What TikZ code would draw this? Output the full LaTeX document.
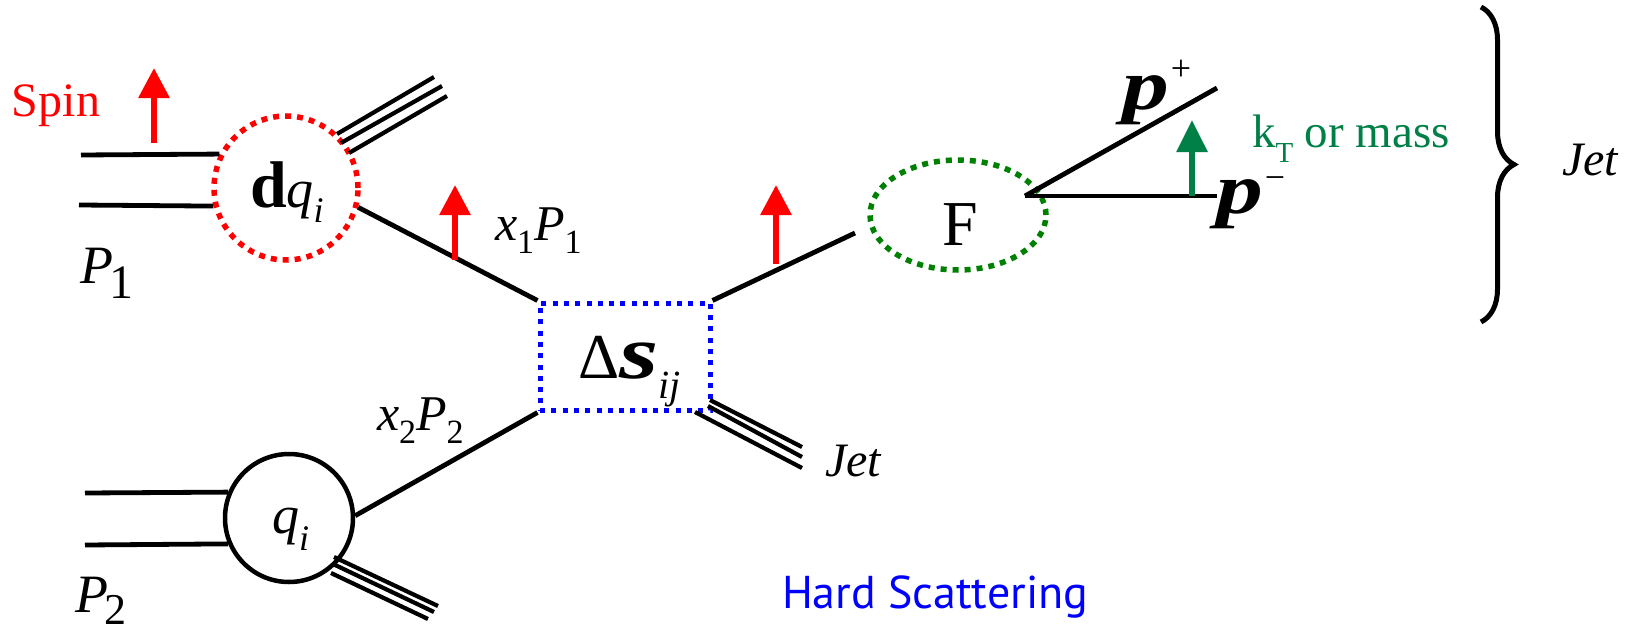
\documentclass[tikz,border=0pt]{standalone}
\usepackage{fontspec}
\setmainfont{Liberation Serif}
\newfontfamily\tms{Liberation Serif}
\newfontfamily\hsfont{PT Sans}
\usetikzlibrary{arrows.meta,shapes.geometric,decorations.pathreplacing}
\definecolor{sred}{RGB}{255,0,0}
\definecolor{sblue}{RGB}{0,0,255}
\definecolor{egreen}{RGB}{0,128,0}
\definecolor{tgreen}{RGB}{0,128,70}
\newcommand\myfs[1]{\fontsize{#1}{#1}\selectfont}
\begin{document}
\begin{tikzpicture}[x=1pt,y=-1pt,
  line/.style={line width=4.8pt},
  jetline/.style={line width=4.2pt},
  spinarrow/.style={draw=sred,line width=6pt,-{Triangle[length=30pt,width=30pt]}},
  ktarrow/.style={draw=tgreen,line width=6pt,-{Triangle[length=32pt,width=30pt]}},
  txt/.style={anchor=base west,inner sep=0pt,outer sep=0pt,font=\tms}]
\useasboundingbox (0,0) rectangle (1644,634);

% main shapes
\node[circle,draw=sred,line width=5.5pt,dash pattern=on 6pt off 6pt,minimum size=144pt,inner sep=0pt] (dq) at (286,188) {};
\node[circle,draw=black,line width=4.5pt,minimum size=128pt,inner sep=0pt] (q) at (289,518) {};
\node[rectangle,draw=sblue,line width=5pt,dash pattern=on 5pt off 6.3pt,minimum width=170pt,minimum height=107pt,inner sep=0pt] (ds) at (625,356.5) {};
\node[ellipse,draw=egreen,line width=5.5pt,dash pattern=on 6pt off 6pt,minimum width=176pt,minimum height=110pt,inner sep=0pt] (F) at (958,215) {};

% coordinates
\coordinate (pa1) at (81,155);
\coordinate (pa2) at (79,205);
\coordinate (pb1) at (85,493);
\coordinate (pb2) at (85,545);
\coordinate (fin) at (855,233);
\coordinate (vtx) at (1025,196);
\coordinate (pp) at (1217,88);
\coordinate (pm) at (1217,196);

% incoming protons
\draw[line] (pa1) -- (dq.153);
\draw[line] (pa2) -- (dq.194);
\draw[line] (pb1) -- (q.157);
\draw[line] (pb2) -- (q.203);

% partons
\draw[line] (dq.-15) -- (ds.north west);
\draw[line] (q.2) -- (ds.south west);
\draw[line] (ds.north east) -- (fin);
\draw[line] (vtx) -- (pp);
\draw[line] (vtx) -- (pm);

% remnant jets
\draw[jetline] (337,134) -- (434,77);
\draw[jetline] (341,143) -- (442,86);
\draw[jetline] (349,153) -- (447,96);
\draw[jetline] (334,557) -- (438,606);
\draw[jetline] (333,564) -- (434,612);
\draw[jetline] (331,573) -- (428,619);
\draw[jetline] (710,400) -- (802,447);
\draw[jetline] (708,406) -- (802,457);
\draw[jetline] (695,412) -- (802,468);

% spin arrows
\draw[spinarrow] (154,143) -- (154,68);
\draw[spinarrow] (455,260) -- (455,185);
\draw[spinarrow] (776,264) -- (776,185);
\draw[ktarrow] (1192,196) -- (1192,120);

% brace
\draw[line width=5pt,decorate,decoration={brace,amplitude=33pt,aspect=0.5}] (1481,7) -- (1481,322);

% labels
\node[txt,text=sred] (spin) at (12,116) {\myfs{48}Spin};
\node[txt] (P1) at (80,283) {\myfs{54}\textit{P}\hspace{-3pt}\raisebox{-15pt}{\myfs{48}1}};
\node[txt] (P2) at (75,612) {\myfs{54}\textit{P}\hspace{-3pt}\raisebox{-12pt}{\myfs{44}2}};
\node[txt] (dqlab) at (250,207) {\myfs{66}\textbf{d}\myfs{54}\textit{q}\raisebox{-15pt}{\myfs{36}\textit{i}}};
\node[txt] (qlab) at (272,533) {\myfs{54}\textit{q}\raisebox{-17pt}{\myfs{36}\textit{i}}};
\node[txt] (x1) at (495,240) {\myfs{50}\textit{x}\raisebox{-13pt}{\myfs{34}1}\textit{P}\raisebox{-13pt}{\myfs{34}1}};
\node[txt] (x2) at (377,430) {\myfs{50}\textit{x}\raisebox{-13pt}{\myfs{34}2}\textit{P}\raisebox{-13pt}{\myfs{34}2}};
\node[txt] (dslab) at (578,378) {\myfs{64}Δ\myfs{72}\scalebox{1.4}[1.05]{\textbf{\textit{s}}}\raisebox{-20pt}{\myfs{40}\textit{ij}}};
\node[txt] (Flab) at (942,245) {\myfs{64}F};
\node[txt] (pplab) at (1122,110) {\myfs{72}\scalebox{1.3}[1]{\textbf{\textit{p}}}\hspace{2pt}\raisebox{29pt}{\myfs{36}+}};
\node[txt] (pmlab) at (1216,213) {\myfs{72}\scalebox{1.3}[1]{\textbf{\textit{p}}}\hspace{2pt}\raisebox{24pt}{\myfs{36}−}};
\node[txt,text=tgreen] (kt) at (1252,147) {\myfs{47}k\raisebox{-15pt}{\myfs{29}T} or mass};
\node[txt] (jet1) at (825,476) {\myfs{48}\textit{Jet}};
\node[txt] (jet2) at (1562,175) {\myfs{48}\textit{Jet}};
\node[txt,text=sblue] (hs) at (782,608) {\hsfont\myfs{46}Hard Scattering};
\end{tikzpicture}
\end{document}
